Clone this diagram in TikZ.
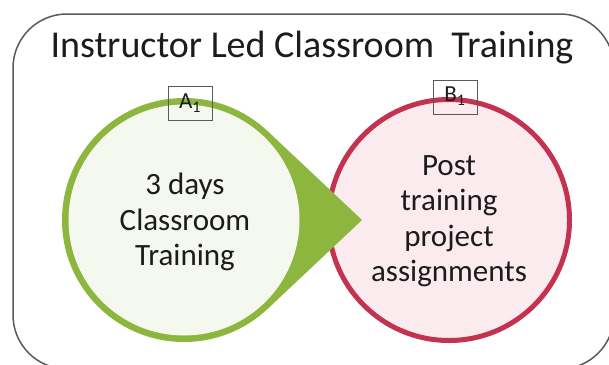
\documentclass[tikz,border=0pt]{standalone}
\usepackage{fontspec}
\setmainfont{Carlito}
\definecolor{framegray}{HTML}{5A5A5A}
\definecolor{leafgreen}{HTML}{8DB63F}
\definecolor{palegreen}{HTML}{F4F8EE}
\definecolor{crimsonedge}{HTML}{C3334F}
\definecolor{palepink}{HTML}{FBEBEE}
\definecolor{inktext}{HTML}{1C1C1C}
\tikzset{
  labelbox/.style={draw=framegray, line width=0.8pt, minimum width=44pt, minimum height=34pt, inner sep=0pt, text=inktext, font=\fontsize{23}{25}\selectfont},
  circtext/.style={align=center, text=inktext, font=\fontsize{31}{35.5}\selectfont},
}
\begin{document}
\begin{tikzpicture}[x=1pt,y=-1pt]
\useasboundingbox (0,0) rectangle (609,364);
\begin{scope}
\clip (0,0) rectangle (609,364);
\draw[framegray, line width=1.5pt, rounded corners=54pt] (13,14) rectangle (614,369);
\end{scope}
\node[anchor=base, text=inktext, font=\fontsize{38}{44}\selectfont] (title) at (312,57) {Instructor Led Classroom\ \ Training};
% red circle
\draw[crimsonedge, fill=palepink, line width=5pt] (449,220) circle (120.5);
\node[circtext] (post) at (449,221) {Post\\training\\project\\assignments};
% green arrow circle
\coordinate (gc) at (184,220);
\coordinate (tip) at (362,220);
\fill[leafgreen] (gc) circle (122);
\fill[leafgreen] (tip) -- (184+83.7,220-88.8) -- (184+83.7,220+88.8) -- cycle;
\fill[palegreen] (gc) circle (115.5);
\node[circtext] (days) at (185,222) {3 days\\Classroom\\Training};
\node[labelbox] (a1) at (190,103) {A\textsubscript{1}};
\node[labelbox, anchor=north] (b1) at (455,80) {\raisebox{6pt}{B\textsubscript{1}}};
\end{tikzpicture}
\end{document}
